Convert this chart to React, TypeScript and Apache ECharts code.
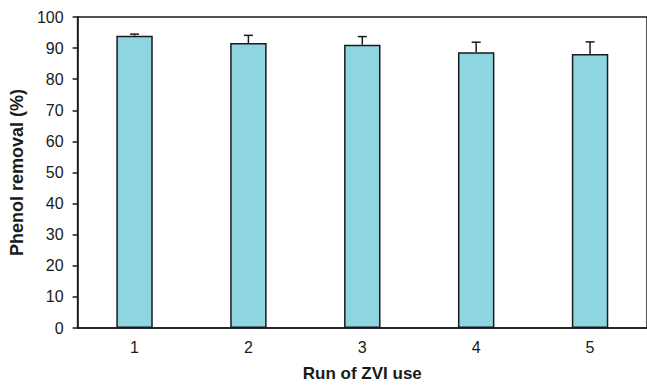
import React, { useEffect, useRef } from "react";
import * as echarts from "echarts";

const categories = ["1", "2", "3", "4", "5"];
const removal = [94.0, 91.6, 91.1, 88.7, 88.1];
const errors = [0.5, 2.5, 2.6, 3.2, 3.9];
const yTicks = { min: 0, max: 100, interval: 10 };

const FONT = "'Liberation Sans', Arial, Helvetica, sans-serif";

export default function App() {
  const ref = useRef<HTMLDivElement>(null);
  useEffect(() => {
    document.body.style.margin = "0";
    if (!ref.current) return;
    const chart = echarts.init(ref.current, null, { renderer: "svg" });
    const errData = removal.map((v, i) => [i, v, errors[i]]);
    chart.setOption({
      animation: false,
      backgroundColor: "#ffffff",
      grid: {
        left: 76,
        top: 17,
        bottom: 58,
        right: -4,
        show: true,
        borderColor: "#1a1a1a",
        borderWidth: 1.5,
        backgroundColor: "transparent",
      },
      xAxis: {
        type: "category",
        data: categories,
        axisLine: { show: true, lineStyle: { color: "#1a1a1a", width: 1.5 } },
        axisTick: { show: false },
        axisLabel: { color: "#1a1a1a", fontSize: 16, fontFamily: FONT, margin: 11 },
        name: "Run of ZVI use",
        nameLocation: "middle",
        nameGap: 37,
        nameTextStyle: { color: "#1a1a1a", fontSize: 17, fontWeight: "bold", fontFamily: FONT },
      },
      yAxis: {
        type: "value",
        min: yTicks.min,
        max: yTicks.max,
        interval: yTicks.interval,
        axisLine: { show: true, lineStyle: { color: "#1a1a1a", width: 1.5 } },
        axisTick: { show: true, inside: false, length: 5, lineStyle: { color: "#1a1a1a", width: 1.5 } },
        splitLine: { show: false },
        axisLabel: { color: "#1a1a1a", fontSize: 16, fontFamily: FONT, margin: 14 },
        name: "Phenol removal (%)",
        nameLocation: "middle",
        nameGap: 46,
        nameTextStyle: { color: "#1a1a1a", fontSize: 18, fontWeight: "bold", fontFamily: FONT },
      },
      series: [
        {
          type: "bar",
          data: removal,
          barWidth: "32%",
          itemStyle: { color: "#8ed5e2", borderColor: "#1a1a1a", borderWidth: 1.5 },
          z: 2,
        },
        {
          type: "custom",
          data: errData,
          z: 3,
          encode: { x: 0, y: 1 },
          renderItem: (params: any, api: any) => {
            const idx = api.value(0);
            const v = api.value(1);
            const e = api.value(2);
            const base = api.coord([idx, v]);
            const top = api.coord([idx, v + e]);
            const style = { stroke: "#1a1a1a", lineWidth: 1.5, fill: null };
            return {
              type: "group",
              children: [
                { type: "line", shape: { x1: base[0], y1: base[1], x2: top[0], y2: top[1] }, style },
                { type: "line", shape: { x1: top[0] - 4.5, y1: top[1], x2: top[0] + 4.5, y2: top[1] }, style },
              ],
            };
          },
        },
      ],
    });
    return () => chart.dispose();
  }, []);
  return (
    <div
      ref={ref}
      style={{ position: "absolute", left: 0, top: 0, width: 647, height: 387 }}
    />
  );
}
